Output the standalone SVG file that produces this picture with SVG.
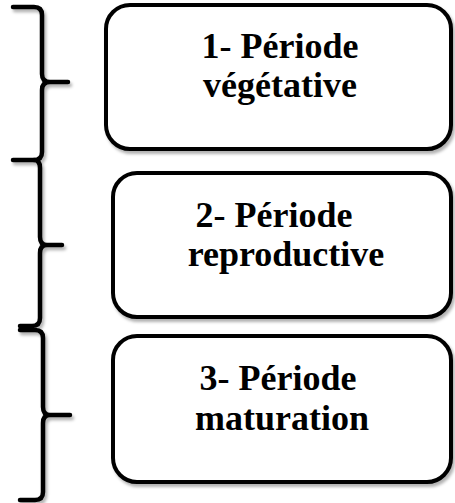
<svg xmlns="http://www.w3.org/2000/svg" width="455" height="503" viewBox="0 0 455 503">
<style>
.box{fill:#fff;stroke:#000;stroke-width:4}
.br{fill:none;stroke:#000;stroke-width:4.5;stroke-linecap:round;stroke-linejoin:round}
.t{font-family:"Liberation Serif","Times New Roman",serif;font-weight:bold;font-size:36px;fill:#000;text-anchor:middle}
</style>
<defs>
<filter id="sh" x="-10%" y="-10%" width="130%" height="130%">
<feDropShadow dx="2" dy="3" stdDeviation="1.5" flood-color="#000" flood-opacity="0.3"/>
</filter>
</defs>
<rect width="455" height="503" fill="#fff"/>
<g id="connectors" filter="url(#sh)">
<path class="br" d="M13,7 H34 Q42,7 42,15 V74 Q42,82 50,82 H68 M50,82 Q42,82 42,90 V152 Q42,160 34,160 H13"/>
<path class="br" d="M34,160 Q40,160 40,168 V237 Q40,245 47,245 H62 M47,245 Q40,245 40,253 V318 Q40,326 32,326 H20"/>
<path class="br" d="M20,330 H35 Q43,330 43,338 V407 Q43,415 50,415 H70 M50,415 Q43,415 43,423 V492 Q43,500 35,500 H20"/>
</g>
<g id="node1">
<rect class="box" x="106" y="5" width="345" height="144" rx="24" filter="url(#sh)"/>
<text class="t" x="280" y="58">1- Période</text>
<text class="t" x="280" y="97">végétative</text>
</g>
<g id="node2">
<rect class="box" x="113" y="173" width="338" height="144" rx="24" filter="url(#sh)"/>
<text class="t" x="274" y="227">2- Période</text>
<text class="t" x="286" y="266">reproductive</text>
</g>
<g id="node3">
<rect class="box" x="113" y="336" width="338" height="146" rx="24" filter="url(#sh)"/>
<text class="t" x="278" y="390">3- Période</text>
<text class="t" x="282" y="430">maturation</text>
</g>
</svg>
